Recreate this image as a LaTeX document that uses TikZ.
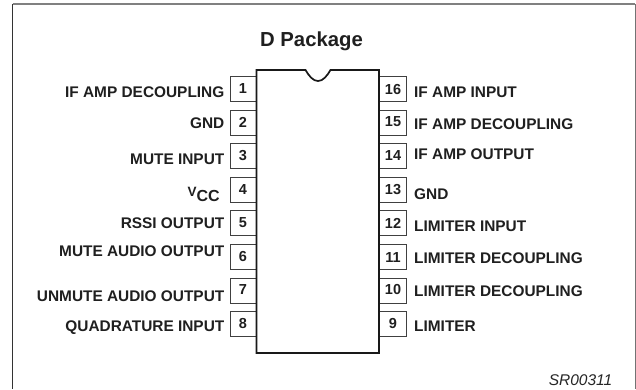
\documentclass[tikz,border=0pt]{standalone}
\usepackage{fontspec}
\setmainfont{Liberation Sans}
\tikzset{
  x=1pt,y=-1pt,
  pinbox/.style={draw=black!75,line width=0.8pt,fill=white},
  lab/.style={inner sep=0pt,font=\fontsize{15.4}{17}\selectfont\bfseries,text=black!88},
  leftlab/.style={lab,anchor=base east},
  rightlab/.style={lab,anchor=base west},
  pinnum/.style={inner sep=0pt,anchor=base,font=\fontsize{14.5}{16}\selectfont\bfseries,text=black!88},
}
\begin{document}
\begin{tikzpicture}
\useasboundingbox (0,0) rectangle (636,389);
\fill[white] (0,0) rectangle (636,389);
\draw[black!50,line width=1.1pt] (12.5,4) -- (635,4);
\draw[black!55,line width=0.8pt] (635,4) -- (635,389);
\draw[black!80,line width=0.9pt] (12.5,4) -- (12.5,389);
\node[inner sep=0pt,anchor=base,font=\fontsize{20.3}{22}\selectfont\bfseries,text=black!88] (title) at (311.5,46) {D Package};
% pin boxes
\foreach \n/\t in {1/76,2/110,3/143.5,4/177,5/210.5,6/244,7/278,8/311.5}{
  \draw[pinbox] (230,\t) rectangle (256.5,\t+25);
}
\foreach \n/\t in {16/76,15/110,14/143.5,13/177,12/210.5,11/244,10/278,9/311.5}{
  \draw[pinbox] (379,\t) rectangle (406.5,\t+25);
}
% package
\draw[black!90,line width=1.7pt,line join=miter]
  (256.5,70) -- (305.5,70) .. controls (309,76) and (313,81) .. (318,81)
  .. controls (323,81) and (327,76) .. (330.5,70) -- (379,70) -- (379,353) -- (256.5,353) -- cycle;
% pin numbers
\foreach \n/\b in {1/93,2/127,3/160,4/194,5/227,6/261,7/294.5,8/328}{
  \node[pinnum] (p\n) at (243,\b) {\n};
}
\foreach \n/\b in {16/94,15/126.5,14/160.5,13/194,12/228,11/262,10/294.5,9/328.5}{
  \node[pinnum] (p\n) at (393,\b) {\n};
}
% left labels
\node[leftlab] (l1) at (224.5,97) {IF AMP DECOUPLING};
\node[leftlab] (l2) at (224.5,128) {GND};
\node[leftlab] (l3) at (224.5,164.5) {MUTE INPUT};
\node[leftlab] (l4) at (220,201.7) {\fontsize{13.5}{16}\selectfont\raisebox{5.5pt}{V}\fontsize{16}{18}\selectfont CC};
\node[leftlab] (l5) at (224.5,228) {RSSI OUTPUT};
\node[leftlab] (l6) at (224.5,256.5) {MUTE AUDIO OUTPUT};
\node[leftlab] (l7) at (224.5,301.5) {UNMUTE AUDIO OUTPUT};
\node[leftlab] (l8) at (224.5,331.5) {QUADRATURE INPUT};
% right labels
\node[rightlab] (r16) at (414,97) {IF AMP INPUT};
\node[rightlab] (r15) at (414,129.5) {IF AMP DECOUPLING};
\node[rightlab] (r14) at (414,159.5) {IF AMP OUTPUT};
\node[rightlab] (r13) at (414,199.5) {GND};
\node[rightlab] (r12) at (414,231) {LIMITER INPUT};
\node[rightlab] (r11) at (414,263.5) {LIMITER DECOUPLING};
\node[rightlab] (r10) at (414,296) {LIMITER DECOUPLING};
\node[rightlab] (r9) at (414,331) {LIMITER};
\node[inner sep=0pt,anchor=base east,font=\fontsize{15.5}{17}\selectfont\itshape,text=black!85] (code) at (612.5,385.5) {SR00311};
\end{tikzpicture}
\end{document}
